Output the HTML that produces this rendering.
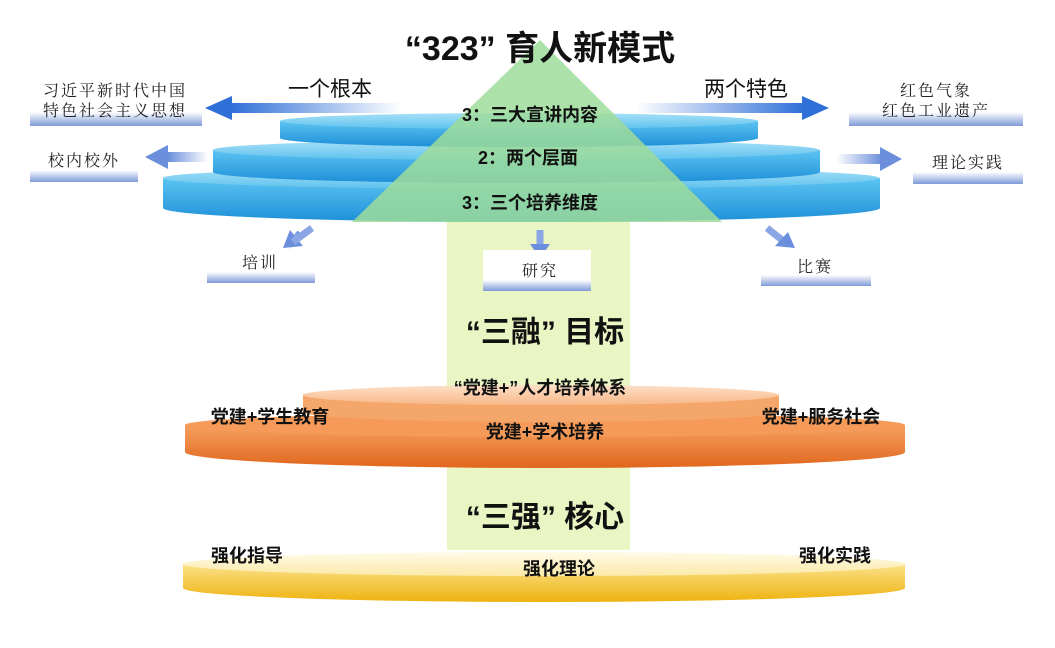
<!DOCTYPE html>
<html><head><meta charset="utf-8"><style>
body{margin:0;background:#fff;}
svg text{font-family:"Liberation Sans","Noto Sans CJK SC",sans-serif;}
.b{font-weight:bold;}
.s{font-family:"Noto Serif CJK SC","Liberation Serif",serif !important;}
</style></head><body>
<svg width="1055" height="643" viewBox="0 0 1055 643" xmlns="http://www.w3.org/2000/svg">
<defs>
<linearGradient id="blue" x1="0" y1="0" x2="0" y2="1"><stop offset="0" stop-color="#5cc4f2"/><stop offset="1" stop-color="#1e8fd8"/></linearGradient>
<linearGradient id="bluetop" x1="0" y1="0" x2="0" y2="1"><stop offset="0" stop-color="#a8e0f8"/><stop offset="1" stop-color="#5ec2ee"/></linearGradient>
<linearGradient id="or" x1="0" y1="0" x2="0" y2="1"><stop offset="0" stop-color="#f6a060"/><stop offset="1" stop-color="#e0661c"/></linearGradient>
<linearGradient id="ortop" x1="0" y1="0" x2="0" y2="1"><stop offset="0" stop-color="#fde0c8"/><stop offset="1" stop-color="#f8b888"/></linearGradient>
<linearGradient id="ye" x1="0" y1="0" x2="0" y2="1"><stop offset="0" stop-color="#fbe28a"/><stop offset="1" stop-color="#eeb20e"/></linearGradient>
<linearGradient id="yetop" x1="0" y1="0" x2="0" y2="1"><stop offset="0" stop-color="#fffbe8"/><stop offset="1" stop-color="#fbeaa8"/></linearGradient>
<linearGradient id="bar" x1="0" y1="0" x2="0" y2="1"><stop offset="0" stop-color="#ffffff"/><stop offset="1" stop-color="#7f9ad8"/></linearGradient>
<linearGradient id="arL" x1="0" y1="0" x2="1" y2="0"><stop offset="0" stop-color="#2f6fd8"/><stop offset="1" stop-color="#2f6fd8" stop-opacity="0"/></linearGradient>
<linearGradient id="arR" x1="1" y1="0" x2="0" y2="0"><stop offset="0" stop-color="#2f6fd8"/><stop offset="1" stop-color="#2f6fd8" stop-opacity="0"/></linearGradient>
<linearGradient id="arL2" x1="0" y1="0" x2="1" y2="0"><stop offset="0" stop-color="#6b8fdc"/><stop offset="1" stop-color="#6b8fdc" stop-opacity="0"/></linearGradient>
<linearGradient id="arR2" x1="1" y1="0" x2="0" y2="0"><stop offset="0" stop-color="#6b8fdc"/><stop offset="1" stop-color="#6b8fdc" stop-opacity="0"/></linearGradient>
<linearGradient id="arD" x1="0" y1="1" x2="0" y2="0"><stop offset="0" stop-color="#6b8fdc"/><stop offset="1" stop-color="#6b8fdc" stop-opacity="0"/></linearGradient>
</defs>

<!-- green band -->
<rect x="447" y="215" width="183" height="335" fill="#eaf5c4"/>

<!-- blue disks (bottom first) -->
<path d="M163 178 L163 208 A358 14 0 0 0 880 208 L880 178 Z" fill="url(#blue)"/>
<ellipse cx="521" cy="178" rx="358" ry="11" fill="url(#bluetop)"/>
<path d="M213 150 L213 172 A303 11 0 0 0 820 172 L820 150 Z" fill="url(#blue)"/>
<ellipse cx="516" cy="150" rx="303" ry="10" fill="url(#bluetop)"/>
<path d="M280 121 L280 138 A239 9 0 0 0 758 138 L758 121 Z" fill="url(#blue)"/>
<ellipse cx="519" cy="121" rx="239" ry="8" fill="url(#bluetop)"/>

<!-- green triangle -->
<polygon points="540,40 352,222 722,222" fill="#9edc9a" opacity="0.85"/>
<rect x="447" y="222" width="183" height="5" fill="#eaf5c4"/>

<!-- title -->
<text x="540" y="60" text-anchor="middle" font-size="34" class="b" fill="#111">“323” 育人新模式</text>

<!-- top arrows -->
<rect x="230" y="103" width="172" height="10" fill="url(#arL)"/>
<polygon points="205,108 232,96 232,120" fill="#2f6fd8"/>
<rect x="636" y="103" width="168" height="10" fill="url(#arR)"/>
<polygon points="829,108 802,96 802,120" fill="#2f6fd8"/>
<text x="330" y="96" text-anchor="middle" font-size="21" fill="#111">一个根本</text>
<text x="746" y="96" text-anchor="middle" font-size="21" fill="#111">两个特色</text>

<!-- second arrows -->
<rect x="168" y="152" width="40" height="10" fill="url(#arL2)"/>
<polygon points="145,157 168,145 168,169" fill="#6b8fdc"/>
<rect x="836" y="154" width="46" height="10" fill="url(#arR2)"/>
<polygon points="902,159 880,147 880,171" fill="#6b8fdc"/>

<!-- down arrows -->
<g transform="translate(302,232) rotate(45)"><rect x="-4" y="-22" width="8" height="20" fill="url(#arD)" transform="rotate(180)"/></g>
<polygon points="283,248 303,246 290,230" fill="#6b8fdc"/>
<line x1="312" y1="228" x2="293" y2="242" stroke="#8aa6e4" stroke-width="7"/>
<line x1="540" y1="230" x2="540" y2="246" stroke="#8aa6e4" stroke-width="7"/>
<polygon points="530,244 550,244 540,258" fill="#6b8fdc"/>
<line x1="767" y1="228" x2="782" y2="240" stroke="#8aa6e4" stroke-width="7"/>
<polygon points="795,248 775,246 788,232" fill="#6b8fdc"/>

<!-- disk labels -->
<text x="530" y="121" text-anchor="middle" font-size="18" class="b" fill="#111">3：三大宣讲内容</text>
<text x="528" y="164" text-anchor="middle" font-size="18" class="b" fill="#111">2：两个层面</text>
<text x="530" y="209" text-anchor="middle" font-size="18" class="b" fill="#111">3：三个培养维度</text>

<!-- side label boxes -->
<rect x="30" y="112" width="172" height="14" fill="url(#bar)"/>
<text x="115" y="96" text-anchor="middle" font-size="16" class="s" fill="#222" letter-spacing="2">习近平新时代中国</text>
<text x="115" y="116" text-anchor="middle" font-size="16" class="s" fill="#222" letter-spacing="2">特色社会主义思想</text>
<rect x="30" y="170" width="108" height="12" fill="url(#bar)"/>
<text x="84" y="166" text-anchor="middle" font-size="16" class="s" fill="#222" letter-spacing="2">校内校外</text>
<rect x="849" y="112" width="174" height="14" fill="url(#bar)"/>
<text x="936" y="96" text-anchor="middle" font-size="16" class="s" fill="#222" letter-spacing="2">红色气象</text>
<text x="936" y="116" text-anchor="middle" font-size="16" class="s" fill="#222" letter-spacing="2">红色工业遗产</text>
<rect x="913" y="172" width="110" height="12" fill="url(#bar)"/>
<text x="968" y="168" text-anchor="middle" font-size="16" class="s" fill="#222" letter-spacing="2">理论实践</text>
<rect x="207" y="272" width="108" height="11" fill="url(#bar)"/>
<text x="260" y="268" text-anchor="middle" font-size="16" class="s" fill="#222" letter-spacing="2">培训</text>
<rect x="483" y="250" width="108" height="40" fill="#fff"/>
<rect x="483" y="280" width="108" height="11" fill="url(#bar)"/>
<text x="540" y="276" text-anchor="middle" font-size="16" class="s" fill="#222" letter-spacing="2">研究</text>
<rect x="761" y="275" width="110" height="11" fill="url(#bar)"/>
<text x="815" y="272" text-anchor="middle" font-size="16" class="s" fill="#222" letter-spacing="2">比赛</text>

<!-- 三融 -->
<text x="545" y="342" text-anchor="middle" font-size="30" class="b" fill="#111">“三融” 目标</text>
<path d="M185 425 L185 452 A360 16 0 0 0 905 452 L905 425 Z" fill="url(#or)"/>
<ellipse cx="545" cy="425" rx="360" ry="12" fill="#f59a58"/>
<path d="M303 395 L303 412 A238 10 0 0 0 779 412 L779 395 Z" fill="#f5a66a"/>
<ellipse cx="541" cy="395" rx="238" ry="10" fill="url(#ortop)"/>
<text x="540" y="394" text-anchor="middle" font-size="18" class="b" fill="#111">“党建+”人才培养体系</text>
<text x="270" y="423" text-anchor="middle" font-size="18" class="b" fill="#111">党建+学生教育</text>
<text x="821" y="423" text-anchor="middle" font-size="18" class="b" fill="#111">党建+服务社会</text>
<text x="545" y="438" text-anchor="middle" font-size="18" class="b" fill="#111">党建+学术培养</text>

<!-- 三强 -->
<text x="545" y="527" text-anchor="middle" font-size="30" class="b" fill="#111">“三强” 核心</text>
<path d="M183 564 L183 588 A361 14 0 0 0 905 588 L905 564 Z" fill="url(#ye)"/>
<ellipse cx="544" cy="564" rx="361" ry="12" fill="url(#yetop)"/>
<text x="247" y="562" text-anchor="middle" font-size="18" class="b" fill="#111">强化指导</text>
<text x="559" y="575" text-anchor="middle" font-size="18" class="b" fill="#111">强化理论</text>
<text x="835" y="562" text-anchor="middle" font-size="18" class="b" fill="#111">强化实践</text>
</svg>
</body></html>
